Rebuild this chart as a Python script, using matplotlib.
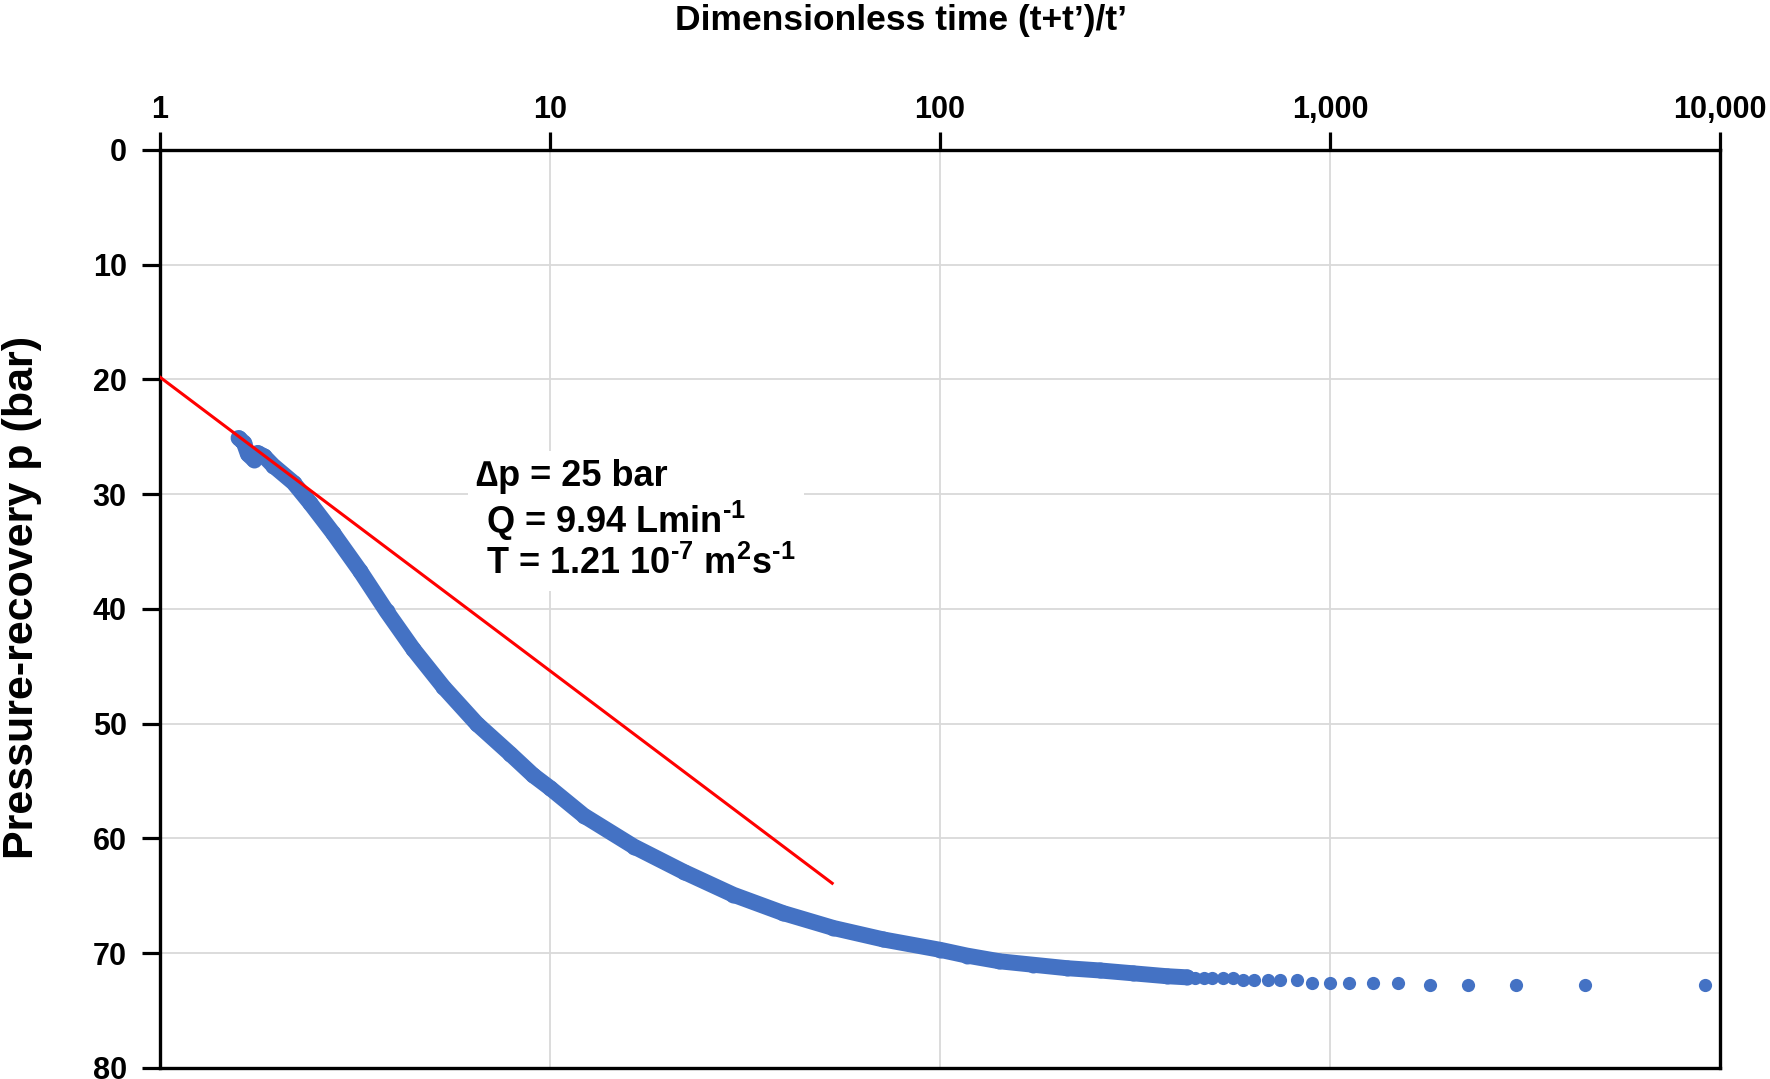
import matplotlib.pyplot as plt
from matplotlib.ticker import NullLocator

# dense part of the recovery record
time_dense = [1.59, 1.64, 1.68, 1.74, 1.78, 1.85, 1.95, 2.2, 2.43, 2.78,
              3.26, 3.81, 4.46, 5.33, 6.49, 7.89, 9.06, 10.0, 12.2, 16.4,
              22.0, 29.5, 39.6, 53.3, 71.6, 100, 117, 142, 173, 211,
              257, 313, 381, 430]
pres_dense = [25.1, 25.5, 26.5, 27.0, 26.4, 26.7, 27.5, 29.0, 30.8, 33.4,
              36.7, 40.2, 43.5, 46.8, 50.0, 52.6, 54.5, 55.6, 58.0, 60.7,
              62.9, 64.9, 66.5, 67.8, 68.8, 69.7, 70.2, 70.7, 71.0, 71.3,
              71.5, 71.75, 72.0, 72.1]

# late-time readings, spaced out on the log axis
time_tail = [451, 475, 499, 531, 563, 598, 639, 695, 744, 822,
             898, 1000, 1119, 1285, 1496, 1805, 2259, 2999, 4505, 9160]
pres_tail = [72.2, 72.2, 72.2, 72.2, 72.2, 72.35, 72.35, 72.35, 72.35, 72.35,
             72.55, 72.55, 72.55, 72.55, 72.55, 72.75, 72.75, 72.75, 72.75, 72.75]

# straight-line fit (semi-log)
fit_time = [1, 52.9]
fit_pres = [19.8, 63.9]

x_ticks = [1, 10, 100, 1000, 10000]
x_tick_labels = ["1", "10", "100", "1,000", "10,000"]
y_ticks = [0, 10, 20, 30, 40, 50, 60, 70, 80]

BLUE = '#4472C4'

plt.rcParams['font.family'] = ['Liberation Sans', 'DejaVu Sans']
plt.rcParams['font.weight'] = 'bold'
plt.rcParams['mathtext.fontset'] = 'custom'
plt.rcParams['mathtext.rm'] = 'Liberation Sans:bold'
plt.rcParams['mathtext.it'] = 'Liberation Sans:bold'
plt.rcParams['mathtext.bf'] = 'Liberation Sans:bold'
plt.rcParams['mathtext.default'] = 'rm'

fig = plt.figure(figsize=(17.7, 10.79), dpi=100)
ax = fig.add_axes([0.0904, 0.0102, 0.8814, 0.8508])

ax.plot(time_dense, pres_dense, color=BLUE, lw=11.5,
        solid_capstyle='round', solid_joinstyle='round', zorder=3)
ax.plot(time_dense, pres_dense, 'o', color=BLUE, ms=11.5, mew=0, zorder=3)
ax.plot(time_tail, pres_tail, 'o', color=BLUE, ms=9.5, mew=0, zorder=3)
ax.plot(fit_time, fit_pres, color='#FF0000', lw=2.2, zorder=4)

ax.set_xscale('log')
ax.set_xlim(1, 10000)
ax.set_ylim(80, 0)
ax.xaxis.tick_top()
ax.set_xticks(x_ticks, x_tick_labels)
ax.xaxis.set_minor_locator(NullLocator())
ax.set_yticks(y_ticks)

ax.tick_params(axis='both', which='major', direction='out', length=13,
               width=2.3, labelsize=22, color='black')
ax.tick_params(axis='x', top=True, bottom=False, pad=5)
ax.tick_params(axis='y', left=True, right=False, pad=11)
for lab in ax.get_xticklabels() + ax.get_yticklabels():
    lab.set_fontweight('bold')

ax.grid(True, color='#d9d9d9', lw=1.3, zorder=0)
ax.set_axisbelow(True)
for sp in ax.spines.values():
    sp.set_linewidth(2.4)
    sp.set_color('black')

ax.xaxis.set_label_position('top')
ax.set_xlabel("Dimensionless time (t+t\u2019)/t\u2019", fontsize=25.5,
              fontweight='bold', va='baseline')
ax.xaxis.set_label_coords(0.475, 1.1307)

ax.set_ylabel("Pressure-recovery p (bar)", fontsize=31, fontweight='bold',
              va='baseline')
ax.yaxis.set_label_coords(-0.0814, 0.513)

note = ("\u2206p = 25 bar\n"
        " Q = 9.94 Lmin$^{\\text{-1}}$\n"
        " T = 1.21 10$^{\\text{-7}}$ m$^{2}$s$^{\\text{-1}}$")
ax.text(0.2025, 0.663, note, transform=ax.transAxes, ha='left', va='top',
        fontsize=26, fontweight='bold', linespacing=1.12, zorder=5,
        bbox=dict(facecolor='white', edgecolor='none', pad=6))

fig.savefig('out.png', dpi=100)
